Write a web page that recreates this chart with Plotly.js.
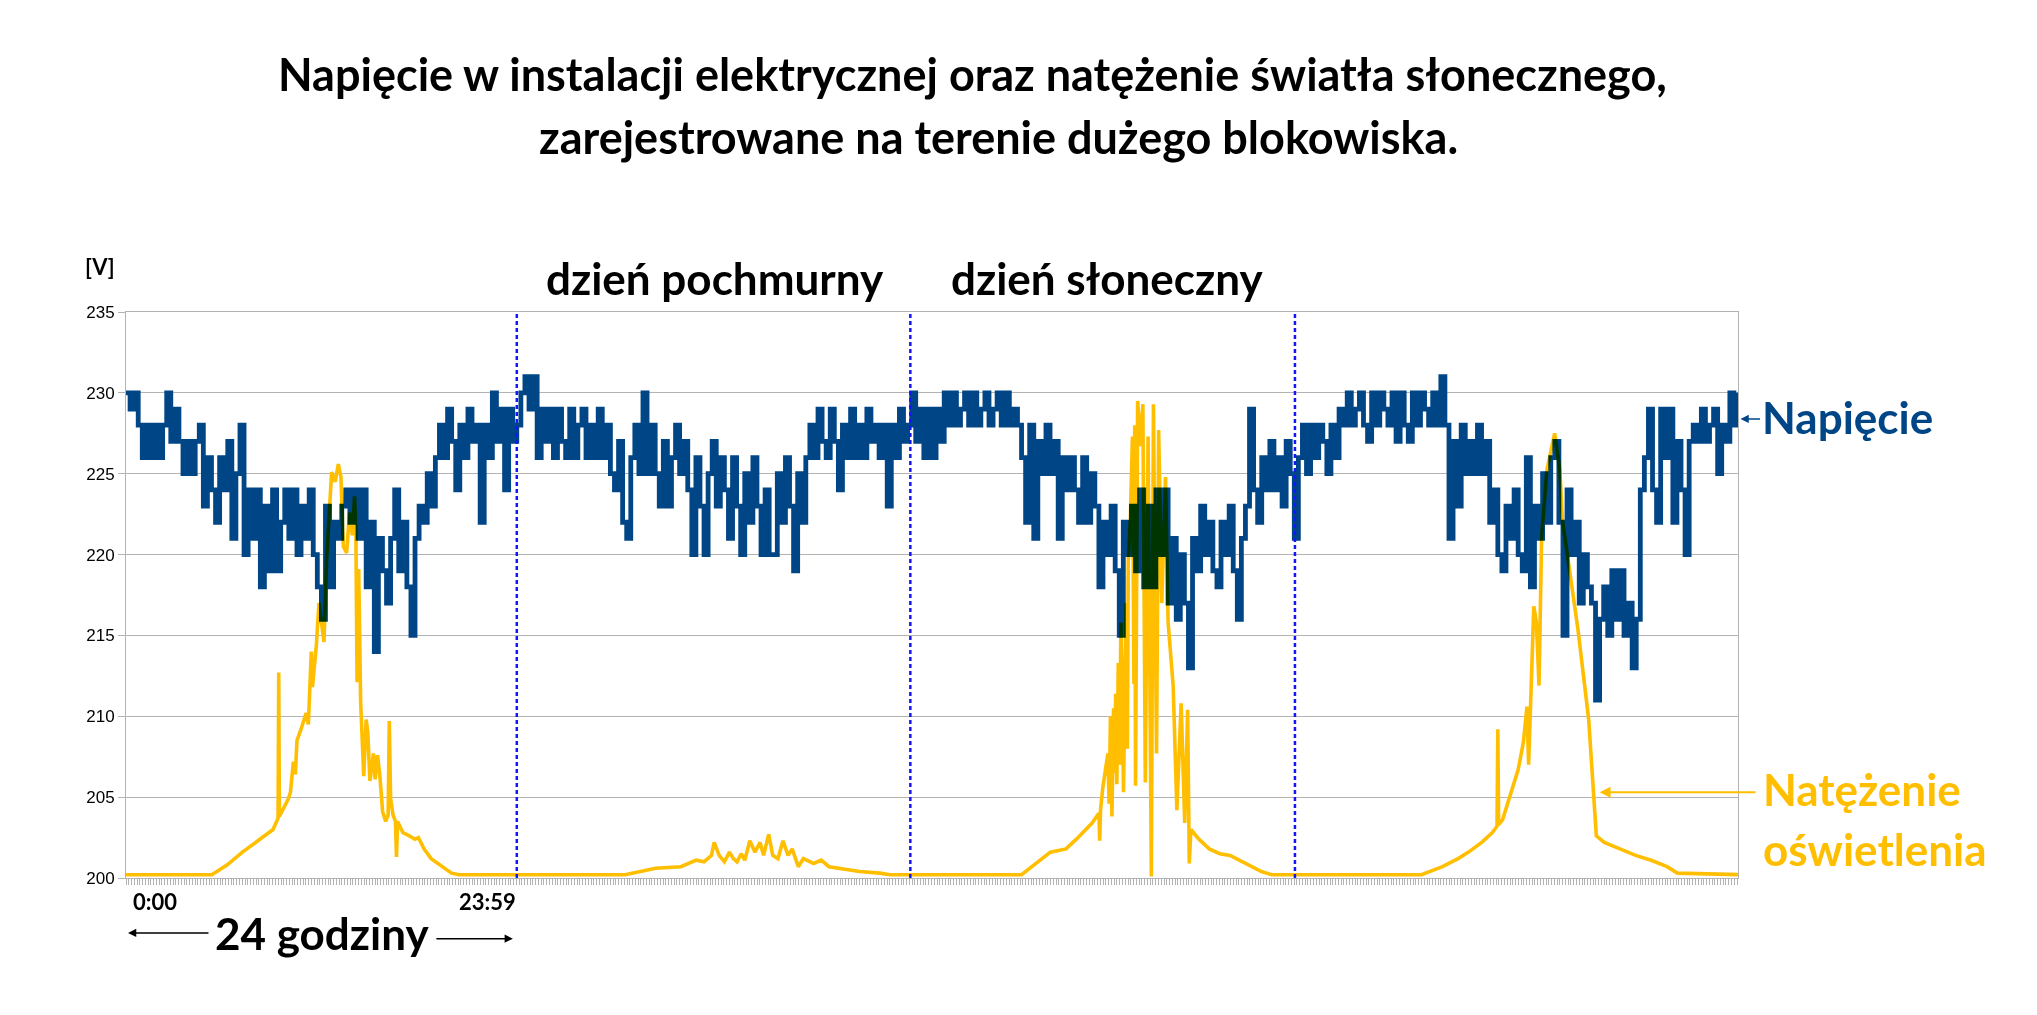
<!DOCTYPE html>
<html><head><meta charset="utf-8">
<script src="https://cdn.plot.ly/plotly-3.0.1.min.js"></script>
<style>
html,body{margin:0;padding:0;background:#fff;}
#chart{width:2037px;height:1015px;}
.scatterlayer .trace path.js-line{mix-blend-mode:multiply;}
</style></head><body><div id="chart"></div><script>
// ---- DATA ----
// Voltage [V], one reading every 0.25 h, per recorded day (start hour given)
const sampleStepHours = 0.25;
const voltDay1Start = 0;
const voltDay1 = [230,229,230,228,226,228,226,228,226,228,230,227,229,227,225,227,225,227,228,223,226,224,222,226,
  224,227,221,225,228,220,224,221,224,218,223,219,224,219,222,224,221,224,220,223,221,224,220,218,
  216,223,218,222,221,223,224,222,224,221,224,218,222,214,221,219,217,221,224,219,222,218,215,221,
  223,222,225,223,226,228,226,229,227,224,228,226,229,227,228,222,228,226,230,227,229,224,229,227];
const voltDay2Start = 24;
const voltDay2 = [228,230,231,229,231,226,229,227,229,226,229,227,226,229,226,228,229,226,228,226,229,226,228,225,
  224,227,222,221,226,228,225,230,225,228,225,223,227,223,226,228,225,227,224,220,226,223,220,225,
  227,223,226,224,221,226,223,220,225,222,226,223,220,224,220,220,225,222,226,223,219,225,222,226,
  228,226,229,227,226,229,227,224,228,226,229,226,228,226,229,227,228,226,228,223,228,226,229,227];
const voltDay3Start = 48;
const voltDay3 = [228,230,227,229,226,229,226,229,227,230,228,230,228,229,230,228,230,228,229,230,228,229,230,228,
  230,228,229,228,226,222,228,221,227,225,228,225,227,221,226,224,226,224,222,226,222,225,223,218,
  222,220,223,219,215,222,220,223,219,224,218,223,218,224,220,224,217,221,216,220,217,213,221,219,
  223,220,222,219,218,222,220,223,219,216,221,223,229,224,222,226,224,227,224,226,223,227,225,221];
const voltDay4Start = 72;
const voltDay4 = [226,228,225,228,226,228,227,225,228,226,229,228,230,228,229,230,228,227,230,228,230,229,228,230,
  227,230,228,227,230,228,230,229,228,230,228,231,228,221,227,223,228,225,227,225,228,225,227,222,
  224,220,219,223,221,224,220,219,226,218,223,221,225,222,226,227,222,215,224,220,222,217,220,218,
  217,211,216,218,215,219,216,219,215,217,213,216,224,226,229,224,222,229,226,229,222,227,224,220,
  227,228,227,229,227,228,229,225,228,227,230,228,230];

// Sunlight intensity (plotted on the voltage scale), irregular readings
const lightHours = [0,5.27,6.2,7.15,8.1,9.03,9.34,9.38,9.42,9.97,10.1,10.28,10.4,10.5,10.75,11.06,11.2,11.38,11.45,11.69,
  11.85,12.0,12.16,12.32,12.47,12.63,12.85,13.04,13.2,13.35,13.55,13.73,13.9,14.04,14.12,14.19,14.29,14.41,14.6,14.75,
  14.85,14.98,15.2,15.3,15.45,15.6,15.76,15.95,16.1,16.17,16.25,16.4,16.55,16.61,16.68,17.01,17.4,17.75,17.96,18.3,
  18.74,19.4,19.99,20.46,
  30.64,31.6,32.52,34.08,35.02,35.5,35.96,36.12,36.43,36.75,37.06,37.3,37.53,37.78,38.0,38.31,38.63,38.94,39.16,39.47,
  39.72,40.04,40.35,40.66,40.91,41.29,41.6,42.23,42.7,43.17,43.79,45.05,46.3,46.92,
  55.0,55.9,56.77,57.73,58.37,59.33,59.75,59.8,59.85,59.98,60.3,60.38,60.46,60.55,60.65,60.72,60.78,60.85,60.94,61.02,
  61.1,61.18,61.26,61.42,61.5,61.55,61.68,61.81,61.9,61.95,62.0,62.13,62.33,62.45,62.6,62.77,62.97,63.1,63.29,63.42,
  63.61,63.84,64.0,64.31,64.54,64.8,65.02,65.2,65.3,65.4,65.89,66.53,67.17,67.81,68.77,69.73,70.38,
  79.56,80.85,81.81,82.45,83.26,83.9,84.2,84.25,84.3,84.54,85.02,85.5,85.82,86.04,86.14,86.3,86.46,86.62,86.78,86.94,
  87.26,87.74,88.06,88.22,88.7,89.18,89.83,90.15,90.3,90.79,91.75,92.71,93.67,94.64,95.28,99.4];
const lightValues = [200.2,200.2,200.8,201.6,202.3,203.0,203.7,212.7,203.8,204.9,205.3,207.2,206.4,208.5,209.2,210.2,209.5,214.0,211.8,214.4,
  217.0,215.9,214.6,219.7,222.8,225.1,224.5,225.6,224.8,220.5,220.1,222.6,221.2,223.6,221.2,212.1,219.1,210.9,206.3,209.8,
  209.0,206.0,207.7,206.1,207.6,206.2,204.1,203.5,203.9,209.7,204.9,203.9,203.5,201.3,203.5,202.8,202.6,202.4,202.5,201.8,
  201.2,200.7,200.3,200.2,
  200.2,200.4,200.6,200.7,201.1,201.0,201.4,202.2,201.4,201.0,201.6,201.2,201.0,201.5,201.1,202.3,201.6,202.2,201.4,202.7,
  201.4,201.2,202.3,201.4,201.8,200.7,201.2,200.9,201.1,200.7,200.6,200.4,200.3,200.2,
  200.2,200.9,201.6,201.8,202.4,203.4,204.0,202.3,204.2,205.5,207.7,204.6,210.0,203.8,210.5,206.5,211.4,205.8,213.3,207.0,
  215.8,212.0,205.3,217.0,208.0,219.5,222.1,227.3,212.0,228.0,205.7,229.5,226.7,229.3,205.9,227.3,200.1,229.3,207.7,227.7,
  217.0,224.8,215.8,211.9,204.2,210.8,203.4,210.4,200.9,203.0,202.4,201.8,201.5,201.4,200.9,200.4,200.2,
  200.2,200.7,201.2,201.6,202.2,202.8,203.2,209.2,203.3,203.6,205.1,206.7,208.4,210.6,207.0,211.6,216.8,215.8,211.9,221.1,
  225.2,227.5,225.2,222.1,218.6,215.3,209.8,205.1,202.6,202.2,201.8,201.4,201.1,200.7,200.3,200.2];

// Day separators (hours) and labels
const dayBoundaries = [24, 48.17, 71.79];
const yTicks = [200, 205, 210, 215, 220, 225, 230, 235];
const titleLines = ['Napięcie w instalacji elektrycznej oraz natężenie światła słonecznego,',
                    'zarejestrowane na terenie dużego blokowiska.'];
const dayLabels = ['dzień pochmurny', 'dzień słoneczny'];
const seriesLabels = ['Napięcie', 'Natężenie', 'oświetlenia'];
const timeLabels = ['0:00', '23:59'];
const spanLabel = '24 godziny';
const unitLabel = '[V]';

// ---- BUILD ----
function sampleTimes(start, vals){ return vals.map((_, i) => start + i * sampleStepHours); }
const voltX = [].concat(sampleTimes(voltDay1Start, voltDay1), sampleTimes(voltDay2Start, voltDay2),
                        sampleTimes(voltDay3Start, voltDay3), sampleTimes(voltDay4Start, voltDay4));
const voltY = [].concat(voltDay1, voltDay2, voltDay3, voltDay4);

const W = 2037, H = 1015;
const M = {l: 126, r: 298.5, t: 312, b: 136.7};
const PW = W - M.l - M.r, PH = H - M.t - M.b;
const px = x => (x - M.l) / PW;
const py = y => (H - M.b - y) / PH;

const BLUE = '#004586', GOLD = '#ffbf00';
const bigFont = (c, s) => ({family: 'Lato, "Open Sans", sans-serif', size: s || 44, color: c, weight: 700});

const traces = [
  {x: voltX, y: voltY, type: 'scatter', mode: 'lines', line: {color: BLUE, width: 4.8, shape: 'hv'}, hoverinfo: 'skip'},
  {x: lightHours, y: lightValues, type: 'scatter', mode: 'lines', line: {color: GOLD, width: 3.6, shape: 'linear'}, hoverinfo: 'skip'}
];

const ann = [];
function txt(text, x, y, xanchor, font){
  ann.push({text: text, xref: 'paper', yref: 'paper', x: px(x), y: py(y), xanchor: xanchor, yanchor: 'middle',
            showarrow: false, font: font, borderpad: 0});
}
function arrow(hx, hy, tx, ty, color, w){
  ann.push({text: '', xref: 'paper', yref: 'paper', x: px(hx), y: py(hy), ax: tx - hx, ay: ty - hy,
            showarrow: true, arrowhead: 2, arrowsize: 1.1, arrowwidth: w, arrowcolor: color, standoff: 0, startstandoff: 0});
}
txt(titleLines[0], 972.5, 74, 'center', bigFont('#000', 45));
txt(titleLines[1], 999, 137, 'center', bigFont('#000', 45));
txt(dayLabels[0], 715, 278, 'center', bigFont('#000'));
txt(dayLabels[1], 1107, 278, 'center', bigFont('#000'));
txt(seriesLabels[0], 1762, 417, 'left', bigFont(BLUE));
txt(seriesLabels[1], 1763, 789, 'left', bigFont(GOLD));
txt(seriesLabels[2], 1763, 849, 'left', bigFont(GOLD));
txt(spanLabel, 321.7, 933, 'center', bigFont('#000'));
txt(unitLabel, 100, 266.5, 'center', {family: 'Lato, sans-serif', size: 22, color: '#000', weight: 700});
txt(timeLabels[0], 131.7, 901.5, 'left', {family: 'Lato, sans-serif', size: 22, color: '#000', weight: 700});
txt(timeLabels[1], 516.7, 901.5, 'right', {family: 'Lato, sans-serif', size: 22, color: '#000', weight: 700});
arrow(128, 933.3, 210, 933.3, '#000', 1.5);
arrow(513, 939, 435, 939, '#000', 1.5);
arrow(1741, 419, 1762, 419, BLUE, 1.5);
arrow(1600, 792.5, 1757.5, 792.5, GOLD, 2);

const shapes = dayBoundaries.map(d => ({type: 'line', xref: 'x', yref: 'paper', x0: d, x1: d, y0: 0, y1: 1,
  layer: 'above', line: {color: '#1414ff', width: 2.5, dash: '4px,3px'}}));

const layout = {
  width: W, height: H, margin: M, paper_bgcolor: '#fff', plot_bgcolor: '#fff', showlegend: false,
  hovermode: false,
  xaxis: {range: [0, 99.0], showticklabels: false, ticks: 'outside', ticklen: 6, tickwidth: 1, tickcolor: '#b3b3b3',
          tick0: 0, dtick: 0.17, showgrid: false, zeroline: false, showline: true, linecolor: '#b3b3b3', linewidth: 1, mirror: true},
  yaxis: {range: [200, 235], tickvals: yTicks, ticks: 'outside', ticklen: 7, tickwidth: 1, tickcolor: '#b3b3b3',
          gridcolor: '#b3b3b3', gridwidth: 1, zeroline: false, showline: true, linecolor: '#b3b3b3', linewidth: 1, mirror: true,
          tickfont: {family: '"Liberation Sans", Arial, sans-serif', size: 17, color: '#000'}},
  annotations: ann, shapes: shapes
};
Plotly.newPlot('chart', traces, layout, {staticPlot: true, displayModeBar: false});
</script></body></html>
